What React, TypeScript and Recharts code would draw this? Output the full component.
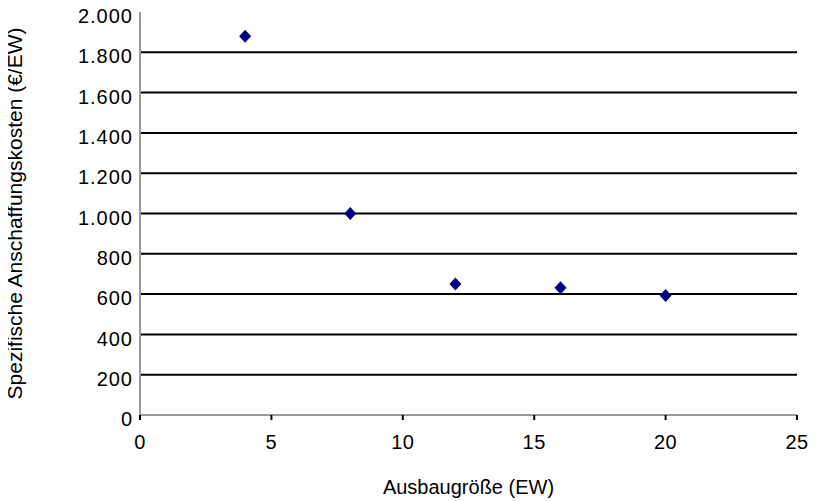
import React from "react";
import { ScatterChart, Scatter, XAxis, YAxis, CartesianGrid } from "recharts";

const sizes = [4, 8, 12, 16, 20];
const costs = [1880, 1000, 650, 632, 593];
const xTicks = [0, 5, 10, 15, 20, 25];
const yTicks = [0, 200, 400, 600, 800, 1000, 1200, 1400, 1600, 1800, 2000];
const gridValues = [200, 400, 600, 800, 1000, 1200, 1400, 1600, 1800];

const data = sizes.map((x, i) => ({ x, y: costs[i] }));

const fmt = (v: number) => String(v).replace(/\B(?=(\d{3})+(?!\d))/g, ".");

const Diamond = (props: any) => {
  const { cx, cy } = props;
  if (cx == null || cy == null) return null;
  const w = 6, h = 6.5;
  return (
    <polygon
      points={`${cx},${cy - h} ${cx + w},${cy} ${cx},${cy + h} ${cx - w},${cy}`}
      fill="#000080"
    />
  );
};

const font = "'Liberation Sans', Arial, sans-serif";

export default function App() {
  return (
    <div style={{ width: 809, height: 493, fontFamily: font }}>
      <ScatterChart width={809} height={493} margin={{ top: 4, right: 20, left: 0, bottom: 0 }}>
        <CartesianGrid horizontal vertical={false} stroke="#000" strokeWidth={2} horizontalValues={gridValues} />
        <XAxis
          type="number"
          dataKey="x"
          domain={[0, 25]}
          ticks={xTicks}
          height={86}
          axisLine={{ stroke: "#999", strokeWidth: 2 }}
          tickLine={{ stroke: "#000", strokeWidth: 2 }}
          tickSize={5}
          tickMargin={15}
          tick={{ fill: "#000", fontSize: 20, fontFamily: font, letterSpacing: 0.5 }}
          label={{ value: "Ausbaugröße (EW)", position: "insideBottom", offset: 0, fill: "#000", fontSize: 20, fontFamily: font, dy: -7 }}
        />
        <XAxis
          xAxisId="top"
          orientation="top"
          type="number"
          domain={[0, 25]}
          height={0}
          tick={false}
          tickLine={false}
          axisLine={{ stroke: "#999", strokeWidth: 2 }}
        />
        <YAxis
          type="number"
          dataKey="y"
          domain={[0, 2000]}
          ticks={yTicks}
          width={132}
          interval={0}
          axisLine={{ stroke: "#999", strokeWidth: 2 }}
          tickLine={false}
          tickMargin={1}
          tickFormatter={fmt}
          tick={{ fill: "#000", fontSize: 20, fontFamily: font, dy: 4, letterSpacing: 1 }}
          label={{ value: "Spezifische Anschaffungskosten (€/EW)", angle: -90, position: "insideLeft", offset: 0, fill: "#000", fontSize: 21, fontFamily: font, dx: 7, style: { textAnchor: "middle" } }}
        />
        <YAxis
          yAxisId="right"
          orientation="right"
          type="number"
          domain={[0, 2000]}
          width={0}
          tick={false}
          tickLine={false}
          axisLine={{ stroke: "#999", strokeWidth: 2 }}
        />
        <Scatter data={data} shape={<Diamond />} isAnimationActive={false} />
      </ScatterChart>
    </div>
  );
}
